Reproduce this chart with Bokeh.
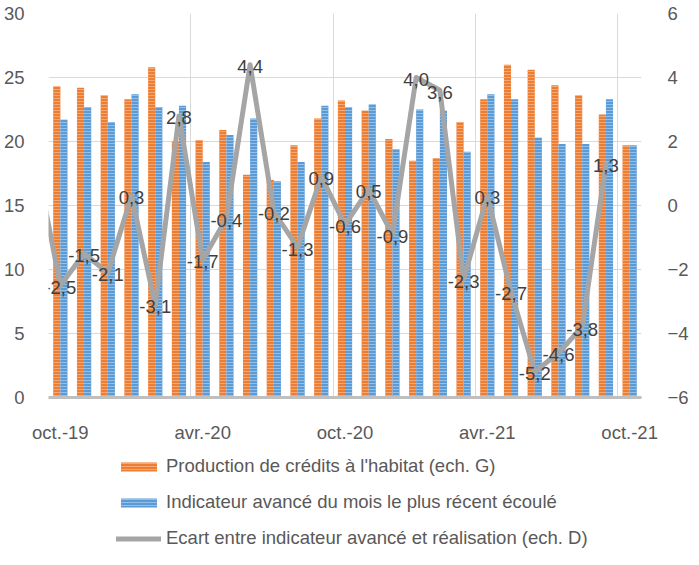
from bokeh.plotting import figure
from bokeh.models import (Range1d, LinearAxis, FixedTicker, ColumnDataSource,
                          Legend, LegendItem)
from bokeh.layouts import column
from bokeh.transform import dodge
from bokeh.embed import file_html
from bokeh.resources import INLINE
from bokeh.core.properties import value

# ---------------- data ----------------
months = ["oct.-19", "nov.-19", "déc.-19", "janv.-20", "févr.-20", "mars-20",
          "avr.-20", "mai-20", "juin-20", "juil.-20", "août-20", "sept.-20",
          "oct.-20", "nov.-20", "déc.-20", "janv.-21", "févr.-21", "mars-21",
          "avr.-21", "mai-21", "juin-21", "juil.-21", "août-21", "sept.-21",
          "oct.-21"]
production = [24.3, 24.2, 23.6, 23.3, 25.8, 20.0, 20.1, 20.9, 17.4, 17.0,
              19.7, 21.8, 23.2, 22.4, 20.2, 18.5, 18.7, 21.5, 23.3, 26.0,
              25.6, 24.4, 23.6, 22.1, 19.7]
indicateur = [21.7, 22.7, 21.5, 23.7, 22.7, 22.8, 18.4, 20.5, 21.8, 16.9,
              18.4, 22.8, 22.7, 22.9, 19.4, 22.5, 22.4, 19.2, 23.7, 23.3,
              20.3, 19.8, 19.8, 23.3, 19.7]
# gap series (right scale) starts one month earlier and ends one month earlier
ecart_months = ["sept.-19"] + months[:-1]
ecart = [1.3, -2.5, -1.5, -2.1, 0.3, -3.1, 2.8, -1.7, -0.4, 4.4, -0.2, -1.3,
         0.9, -0.6, 0.5, -0.9, 4.0, 3.6, -2.3, 0.3, -2.7, -5.2, -4.6, -3.8, 1.3]
tick_labels = ["oct.-19", "avr.-20", "oct.-20", "avr.-21", "oct.-21"]
left_ticks = [0, 5, 10, 15, 20, 25, 30]
right_ticks = [-6, -4, -2, 0, 2, 4, 6]
legend_labels = ["Production de crédits à l'habitat (ech. G)",
                 "Indicateur avancé du mois le plus récent écoulé",
                 "Ecart entre indicateur avancé et réalisation (ech. D)"]

FONT = "Liberation Sans"
FS = "18.5px"
AXIS_COL = "#595959"
GRID_COL = "#D9D9D9"
ORANGE, ORANGE_L = "#ED7D31", "#F6B38A"
BLUE, BLUE_L = "#5B9BD5", "#A3C8EC"
GREY = "#A5A5A5"
BAR_PROD = dict(fill_color=ORANGE, line_color=None, hatch_pattern="horizontal_line",
                hatch_color=ORANGE_L, hatch_scale=3, hatch_weight=1, hatch_alpha=0.8)
BAR_IND = dict(fill_color=BLUE, line_color=None, hatch_pattern="horizontal_line",
               hatch_color=BLUE_L, hatch_scale=3, hatch_weight=1, hatch_alpha=0.8)
LINE_ST = dict(line_color=GREY, line_width=5, line_join="round", line_cap="round")

idx = list(range(len(months)))
bars = ColumnDataSource(dict(x=idx, month=months, prod=production, ind=indicateur))
eidx = [months.index(m) if m in months else -1 for m in ecart_months]
line_src = ColumnDataSource(dict(x=eidx, y=ecart))
lab_src = ColumnDataSource(dict(x=eidx[1:], y=ecart[1:],
                                txt=[f"{v:.1f}".replace(".", ",") for v in ecart[1:]]))

W = 691
p = figure(width=W, height=445, output_backend="svg", toolbar_location=None,
           x_range=Range1d(-0.5, len(months) - 0.5), y_range=Range1d(0, 30),
           min_border_left=42, min_border_right=39, min_border_top=13,
           min_border_bottom=47)
p.outline_line_color = None
p.extra_y_ranges = {"right": Range1d(-6, 6)}

# grids
p.ygrid.ticker = FixedTicker(ticks=left_ticks)
p.ygrid.grid_line_color = GRID_COL
p.xgrid.ticker = FixedTicker(ticks=[months.index(t) - 0.5 for t in tick_labels])
p.xgrid.grid_line_color = GRID_COL

# bars
p.vbar(x=dodge("x", -0.15, range=p.x_range), top="prod", width=0.3, source=bars, **BAR_PROD)
p.vbar(x=dodge("x", 0.15, range=p.x_range), top="ind", width=0.3, source=bars, **BAR_IND)

# line on right axis + its data labels
p.line("x", "y", source=line_src, y_range_name="right", **LINE_ST)
p.text("x", "y", text="txt", source=lab_src, y_range_name="right",
       text_align="center", text_baseline="middle", y_offset=2,
       text_font=value(FONT), text_font_size=FS, text_color="#404040")

# axes
p.xaxis.ticker = FixedTicker(ticks=[months.index(t) for t in tick_labels])
p.xaxis.major_label_overrides = {months.index(t): t for t in tick_labels}
p.xaxis.axis_line_color = "#BFBFBF"
p.xaxis.axis_line_width = 3
p.xaxis.major_tick_line_color = None
p.xaxis.minor_tick_line_color = None
p.xaxis.major_label_standoff = 18
p.xaxis.major_label_text_font = FONT
p.xaxis.major_label_text_font_size = FS
p.xaxis.major_label_text_color = AXIS_COL

p.yaxis.ticker = FixedTicker(ticks=left_ticks)
p.yaxis.axis_line_color = None
p.yaxis.major_tick_line_color = None
p.yaxis.minor_tick_line_color = None
p.yaxis.major_label_standoff = 18
p.yaxis.major_label_text_font = FONT
p.yaxis.major_label_text_font_size = FS
p.yaxis.major_label_text_color = AXIS_COL

ry = LinearAxis(y_range_name="right", ticker=FixedTicker(ticks=right_ticks),
                axis_line_color=None, major_tick_line_color=None,
                minor_tick_line_color=None, major_label_standoff=20,
                major_label_text_font=FONT, major_label_text_font_size=FS,
                major_label_text_color=AXIS_COL)
p.add_layout(ry, "right")

# ---------------- legend strip (below the chart) ----------------
# same series drawn with ranges that keep them out of view: only the legend shows
q = figure(width=W, height=104, output_backend="svg", toolbar_location=None,
           x_range=Range1d(-0.5, len(months) - 0.5), y_range=Range1d(1000, 1001),
           x_axis_type=None, y_axis_type=None,
           min_border_left=0, min_border_right=0, min_border_top=0, min_border_bottom=0)
q.outline_line_color = None
q.grid.visible = False
l1 = q.vbar(x="x", top="prod", width=0.3, source=bars, **BAR_PROD)
l2 = q.vbar(x="x", top="ind", width=0.3, source=bars, **BAR_IND)
l3 = q.line("x", "y", source=line_src, **LINE_ST)

legend = Legend(items=[LegendItem(label=legend_labels[0], renderers=[l1]),
                       LegendItem(label=legend_labels[1], renderers=[l2]),
                       LegendItem(label=legend_labels[2], renderers=[l3])],
                location=(68, 0), orientation="vertical",
                glyph_width=45, glyph_height=11, label_height=22,
                label_standoff=5, spacing=14, padding=0, margin=0,
                border_line_color=None, background_fill_alpha=0,
                label_text_font=FONT, label_text_font_size=FS,
                label_text_color=AXIS_COL)
q.add_layout(legend)

page = column(p, q, spacing=0)
open("out.html", "w").write(file_html(page, INLINE))
